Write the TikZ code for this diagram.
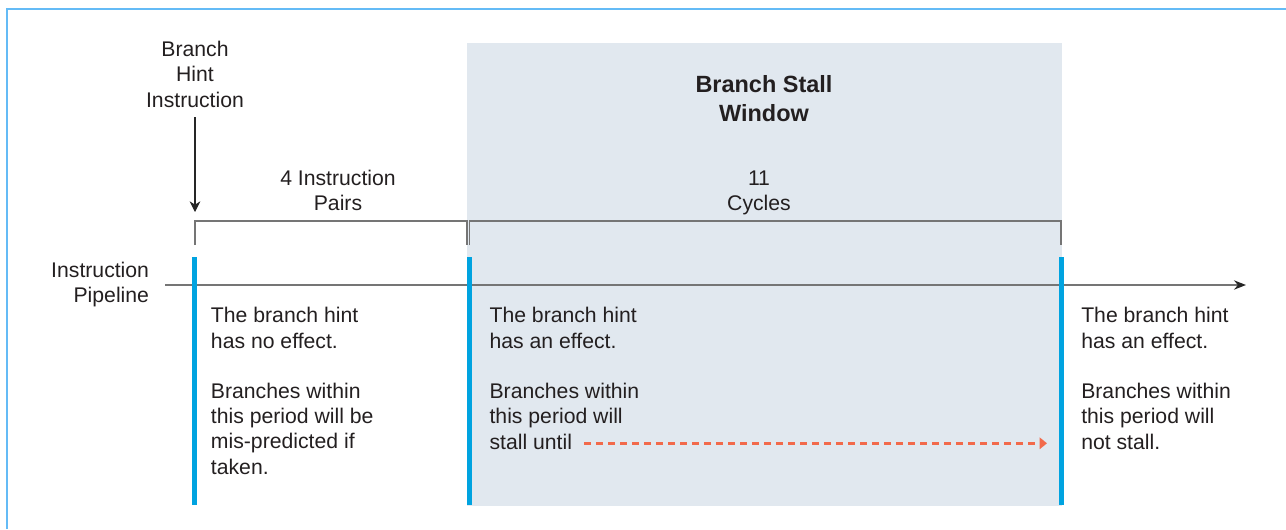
\documentclass[tikz,border=0pt]{standalone}
\usepackage{fontspec}
\setmainfont{Liberation Sans}
\usetikzlibrary{arrows.meta}
\definecolor{frameblue}{HTML}{64BBF6}
\definecolor{barblue}{HTML}{00A3E0}
\definecolor{stallfill}{HTML}{E1E8EF}
\definecolor{txt}{HTML}{231F20}
\definecolor{linegray}{HTML}{757575}
\definecolor{dasho}{HTML}{F26A4B}
\begin{document}
\begin{tikzpicture}[x=0.75pt,y=-0.75pt,
  lbl/.style={font=\fontsize{15.9}{19}\selectfont, text=txt, inner sep=0pt},
  lft/.style={lbl, align=left, anchor=base west},
  ctr/.style={lbl, align=center, anchor=base},
  rgt/.style={lbl, align=right, anchor=base east},
  ttl/.style={font=\fontsize{17.6}{21.8}\selectfont\bfseries, text=txt, inner sep=0pt, align=center, anchor=base},
  bar/.style={barblue, line width=3.75pt},
  brk/.style={linegray, line width=1pt},
]
\useasboundingbox (0,0) rectangle (1286,529);
% shaded stall window
\fill[stallfill] (467,43) rectangle (1062,506);
% frame
\draw[frameblue, line width=1.5pt] (7,529) -- (7,9) -- (1286,9);

% coordinates
\coordinate (b1t) at (194.5,257); \coordinate (b1b) at (194.5,505);
\coordinate (b2t) at (469,257);   \coordinate (b2b) at (469,505);
\coordinate (b3t) at (1061,257);  \coordinate (b3b) at (1061,505);
\coordinate (pipeS) at (165,285); \coordinate (pipeE) at (1246,285);

% pipeline
\draw[linegray, line width=1.2pt, -{Stealth[length=9pt,width=7pt,color=black!85]}] (pipeS) -- (pipeE);

% bars
\draw[bar] (b1t) -- (b1b);
\draw[bar] (b2t) -- (b2b);
\draw[bar] (b3t) -- (b3b);

% brackets
\draw[brk] (195,245) -- (195,221) -- (467,221) -- (467,245);
\draw[brk] (469.5,245) -- (469.5,221) -- (1061,221) -- (1061,245);

% labels (anchor = baseline of last line)
\node[ctr] (hint) at (195,107.3) {Branch\\Hint\\Instruction};
\coordinate (hintS) at (195,117);
\coordinate (hintTip) at (195,212);
\draw[black!85, line width=0.8pt, -{Stealth[length=8pt,width=8pt,inset=2.5pt]}] (hintS) -- (hintTip);

\node[ctr] (pairs) at (338,210.7) {4 Instruction\\Pairs};
\node[ttl] (title) at (764,121.7) {Branch Stall\\Window};
\node[ctr] (cycles) at (759,210.7) {11\\Cycles};
\node[rgt] (pipe) at (149.3,302.5) {Instruction\\Pipeline};

\node[lft] (c1a) at (210.7,348.3) {The branch hint\\has no effect.};
\node[lft] (c1b) at (210.7,474.2) {Branches within\\this period will be\\mis-predicted if\\taken.};
\node[lft] (c2a) at (489.3,348.3) {The branch hint\\has an effect.};
\node[lft] (c2b) at (489.3,449) {Branches within\\this period will\\stall until};
\node[lft] (c3a) at (1081,348.3) {The branch hint\\has an effect.};
\node[lft] (c3b) at (1081,449) {Branches within\\this period will\\not stall.};

\coordinate (dashS) at (584,443.3);
\coordinate (dashE) at (1047,443.3);
\draw[dasho, line width=1.9pt, dash pattern=on 5.3pt off 3.7pt, -{Triangle[length=5.5pt,width=8.5pt]}] (dashS) -- (dashE);
\end{tikzpicture}
\end{document}
